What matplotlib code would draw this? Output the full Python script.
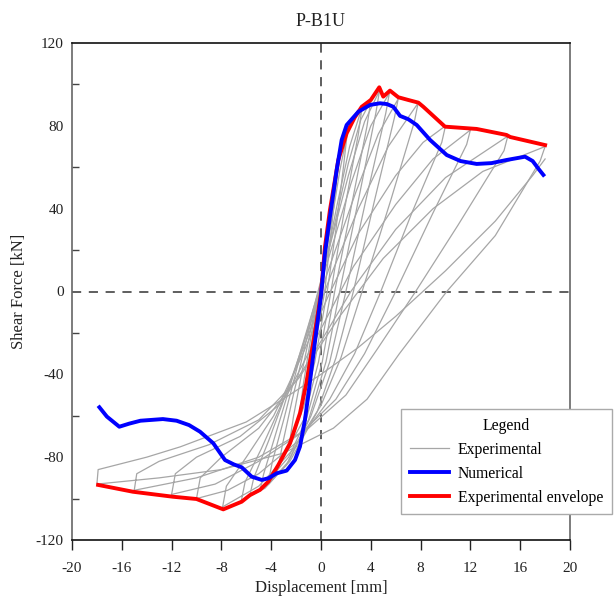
import matplotlib
matplotlib.use("Agg")
import matplotlib.pyplot as plt
from matplotlib.ticker import FixedLocator

# ---------------- data ----------------
title = "P-B1U"
x_label = "Displacement [mm]"
y_label = "Shear Force [kN]"
x_ticks = [-20, -16, -12, -8, -4, 0, 4, 8, 12, 16, 20]
y_ticks = [-120, -80, -40, 0, 40, 80, 120]
y_minor = [-100, -60, -20, 20, 60, 100]

# Experimental hysteresis cycles (reloading branch + unloading branch), (disp, force)
cycle_01 = [(0, 0), (0.35, 20), (0.7, 38), (0.4, 20), (0.1, 0), (-0.5, -25), (-1.2, -43)]
cycle_02 = [(-1.2, -43), (-0.9, -30), (-0.3, -8), (0.3, 15), (0.9, 42), (1.4, 62),
            (1.1, 45), (0.3, 0), (-0.6, -30), (-1.7, -58)]
cycle_03 = [(-1.7, -58), (-1.4, -44), (-0.7, -18), (0, 5), (0.8, 32), (1.5, 58), (2.1, 76),
            (1.8, 60), (1.2, 30), (0.5, 0), (-0.5, -34), (-1.4, -56), (-2.5, -72)]
cycle_04 = [(-2.5, -72), (-2.2, -60), (-1.5, -38), (-0.6, -12), (0.3, 12), (1.3, 42), (2.3, 70), (3.3, 89),
            (3.0, 76), (1.9, 40), (0.8, 0), (-0.2, -34), (-1.4, -62), (-3.4, -84)]
cycle_05 = [(-3.4, -84), (-3.1, -74), (-2.3, -52), (-1.2, -24), (0, 4), (1, 30), (2.2, 62), (3.2, 83), (4.0, 92),
            (3.7, 80), (2.4, 40), (1.1, 0), (0.1, -34), (-1.2, -62), (-2.6, -80), (-4.2, -91)]
cycle_06 = [(-4.2, -91), (-3.9, -82), (-3.0, -62), (-1.8, -34), (-0.5, -6), (0.8, 24), (2.2, 56), (3.5, 82), (4.7, 97),
            (4.4, 86), (3.0, 44), (1.5, 0), (0.4, -34), (-1.0, -62), (-2.8, -84), (-4.9, -96)]
cycle_07 = [(-4.9, -96), (-4.6, -88), (-3.6, -68), (-2.2, -40), (-0.8, -12), (0.8, 20), (2.4, 52), (4.0, 80), (5.5, 96),
            (5.2, 86), (3.6, 44), (2.0, 0), (0.7, -34), (-0.8, -60), (-2.6, -82), (-4.2, -93), (-5.7, -98)]
cycle_08 = [(-5.7, -98), (-5.4, -90), (-4.2, -72), (-2.6, -46), (-1.0, -18), (0.8, 14), (2.8, 48), (4.6, 76), (6.2, 93),
            (5.9, 84), (4.3, 44), (2.6, 0), (1.2, -32), (-0.3, -58), (-2.5, -82), (-4.5, -95), (-6.4, -101)]
cycle_09 = [(-6.4, -101), (-6.1, -92), (-4.8, -76), (-3.0, -52), (-1.2, -24), (0.8, 8), (3.0, 40), (5.4, 70), (7.8, 91),
            (7.5, 82), (5.6, 44), (3.3, 0), (1.6, -32), (0, -55), (-2.2, -76), (-5.0, -94), (-7.9, -104)]
cycle_10 = [(-7.9, -104), (-7.6, -94), (-6.0, -80), (-3.8, -60), (-1.6, -32), (0.6, -2), (3.0, 28), (6.0, 56), (8.2, 72), (10, 80),
            (9.7, 72), (7.3, 38), (4.8, 0), (2.7, -30), (0.7, -52), (-1.8, -72), (-5.0, -88), (-7.5, -96), (-10, -100)]
cycle_11 = [(-10, -100), (-9.7, -90), (-8.0, -80), (-5.0, -66), (-2.4, -46), (0, -18), (2.6, 12), (6.0, 42), (9.0, 64), (12, 78),
            (11.7, 71), (9.0, 38), (6.0, 0), (3.5, -30), (1.2, -52), (-1.5, -68), (-5.0, -82), (-8.5, -93), (-12, -98)]
cycle_12 = [(-12, -98), (-11.7, -88), (-10, -80), (-6.5, -70), (-3.2, -54), (-0.6, -30), (2.4, 0), (6.0, 30), (10, 55), (15, 75),
            (14.7, 68), (11, 32), (7.6, 0), (4.5, -28), (2.0, -50), (-1.0, -66), (-5.0, -80), (-10, -90), (-15, -96)]
cycle_13 = [(-15, -96), (-14.8, -88), (-13, -82), (-9, -74), (-5, -62), (-1.8, -42), (1.5, -12), (5, 16), (9, 40), (13, 58), (18, 70),
            (17.6, 63), (14, 27), (10.1, 0), (6.3, -30), (3.7, -52), (1.0, -66), (-3.0, -78), (-8.0, -86), (-13, -90), (-18, -93)]
cycle_14 = [(-18, -93), (-17.9, -86), (-14, -80), (-11.3, -75), (-6, -63), (-2.8, -51), (0, -40), (3, -27), (6, -12),
            (10, 10), (14, 34), (17, 56), (18, 64)]
exp_cycles = [cycle_01, cycle_02, cycle_03, cycle_04, cycle_05, cycle_06, cycle_07,
              cycle_08, cycle_09, cycle_10, cycle_11, cycle_12, cycle_13, cycle_14]

num_x = [-17.8, -17.2, -16.2, -15.4, -14.5, -12.7, -11.6, -10.6, -9.72, -8.65, -7.71, -7.0, -6.37,
         -5.57, -4.76, -4.23, -3.56, -2.76, -2.09, -1.69, -1.29, -1.02, -0.5, 0.0, 0.32, 0.72, 1.26,
         1.66, 2.06, 3.0, 3.94, 4.74, 5.3, 5.81, 6.35, 7.01, 7.69, 8.76, 10.1, 11.2, 12.5, 13.7,
         14.9, 16.39, 17.0, 17.5, 17.86]
num_y = [-55.9, -60.4, -65.3, -63.8, -62.4, -61.6, -62.4, -64.5, -67.7, -73.3, -81.4, -83.5, -84.9,
         -89.4, -91.0, -90.2, -87.8, -86.5, -81.4, -74.9, -62.0, -50.0, -25.0, -2.0, 18.6, 36.1, 58.7,
         73.2, 80.4, 86.8, 90.1, 90.9, 90.5, 89.2, 84.8, 83.2, 80.4, 73.2, 65.9, 63.0, 61.6, 62.0,
         63.5, 65.1, 63.0, 59.0, 56.3]

env_x = [-17.9, -15.1, -11.9, -10.0, -7.85, -6.37, -5.7, -4.9, -4.23, -3.43, -2.49, -1.69, -1.2,
         -0.6, 0.0, 0.32, 0.72, 1.39, 2.06, 2.7, 3.27, 4.0, 4.68, 5.0, 5.54, 6.21, 7.0, 7.82, 8.22,
         9.96, 12.5, 14.9, 15.2, 18.0]
env_y = [-93.4, -96.7, -99.1, -100.2, -105.2, -101.5, -98.3, -95.8, -91.8, -83.8, -73.3, -58.8, -45.0,
         -24.0, -1.0, 21.6, 39.4, 63.5, 76.4, 84.0, 89.2, 92.5, 98.6, 94.1, 97.0, 93.8, 92.5, 91.2, 89.2,
         79.6, 78.5, 75.6, 74.6, 70.7]

# ---------------- plot ----------------
plt.rcParams['font.family'] = ['Liberation Serif', 'DejaVu Serif']
fig = plt.figure(figsize=(6.14, 6.01), dpi=100)
ax = fig.add_axes([72/614, 1-540/601, 498/614, 497/601])

for i, cyc in enumerate(exp_cycles):
    xs = [p[0] for p in cyc]
    ys = [p[1] for p in cyc]
    ax.plot(xs, ys, color='#a6a6a6', lw=0.9, zorder=2, solid_joinstyle='round',
            label='Experimental' if i == 0 else None)

ax.plot(env_x, env_y, color='#ff0000', lw=2.8, zorder=3, label='Experimental envelope',
        solid_joinstyle='round')
ax.plot(num_x, num_y, color='#0000ff', lw=2.8, zorder=4, label='Numerical',
        solid_joinstyle='round')

ax.axhline(0, color='#333333', lw=1.1, ls=(0, (6, 5)), zorder=1)
ax.axvline(0, color='#333333', lw=1.1, ls=(0, (6, 5)), zorder=1)

ax.set_xlim(-20, 20)
ax.set_ylim(-120, 120)
ax.set_xticks(x_ticks)
ax.set_xticklabels([str(v) for v in x_ticks])
ax.set_yticks(y_ticks)
ax.set_yticklabels([str(v) for v in y_ticks])
ax.yaxis.set_minor_locator(FixedLocator(y_minor))
ax.tick_params(axis='x', which='major', direction='out', length=7, width=1.0,
               labelsize=11, pad=8.5, colors='#222222')
ax.tick_params(axis='y', which='major', length=0, labelsize=11, pad=6, colors='#222222')
ax.tick_params(axis='y', which='minor', direction='in', length=5, width=1.0, color='#444444')

ax.spines['top'].set_color('#111111')
ax.spines['bottom'].set_color('#111111')
ax.spines['left'].set_color('#666666')
ax.spines['right'].set_color('#666666')
for s in ax.spines.values():
    s.set_linewidth(1.2)

ax.set_title(title, fontsize=13, pad=12, color='#222222')
ax.set_xlabel(x_label, fontsize=12, labelpad=4, color='#222222')
ax.set_ylabel(y_label, fontsize=12, labelpad=6, color='#222222')

handles, labels = ax.get_legend_handles_labels()
order = ['Experimental', 'Numerical', 'Experimental envelope']
hmap = dict(zip(labels, handles))
leg = ax.legend([hmap[k] for k in order], order, title='Legend',
                loc='lower left', bbox_to_anchor=(0.661, 0.052),
                fontsize=11.3, title_fontsize=11.3, frameon=True, fancybox=False,
                edgecolor='#aaaaaa', framealpha=1, handlelength=2.5,
                handletextpad=0.55, labelspacing=0.5, borderpad=0.55, borderaxespad=0)
leg.get_frame().set_linewidth(1.0)
leg.set_zorder(10)

fig.savefig('out.png', dpi=100)
